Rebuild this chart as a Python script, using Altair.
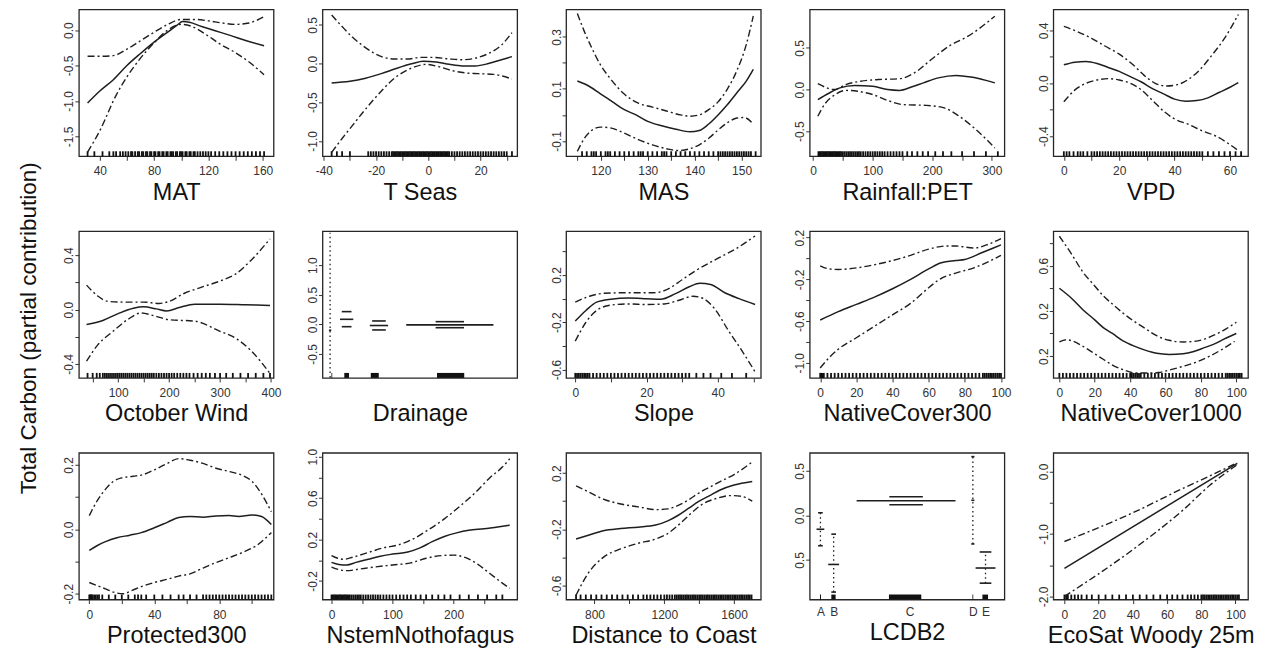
import altair as alt
import pandas as pd

# ---------------- data ----------------
MAT_FIT = [(31,-1.03),(40,-0.86),(50,-0.70),(60,-0.50),(70,-0.33),(80,-0.17),(90,-0.03),(97,0.07),(101,0.12),(106,0.11),(115,0.05),(125,-0.01),(136,-0.075),(148,-0.15),(161,-0.22)]
MAT_UP = [(31,-0.37),(40,-0.37),(50,-0.36),(60,-0.27),(70,-0.15),(80,-0.03),(90,0.08),(100,0.15),(110,0.15),(120,0.13),(130,0.10),(140,0.08),(150,0.10),(161,0.19)]
MAT_LO = [(31,-1.72),(40,-1.42),(52,-0.92),(60,-0.66),(69,-0.42),(80,-0.18),(90,0.0),(100,0.08),(108,0.05),(118,-0.06),(128,-0.19),(140,-0.32),(150,-0.45),(161,-0.63)]
MAT_RUG = [31,36,42,47,50,52,55,57,59,61,63,64,66,68,69,71,72,74,75,77,78,80,81,83,84,86,87,89,90,92,93,94,96,97,99,100,101,103,104,106,107,109,110,112,114,116,118,120,122,125,128,131,134,137,140,143,146,149,152,155,158,161]

TS_FIT = [(-37,-0.25),(-30,-0.23),(-24,-0.19),(-18,-0.13),(-12,-0.06),(-6,0.0),(-2,0.03),(3,0.02),(8,-0.01),(13,-0.03),(18,-0.03),(23,0.0),(28,0.05),(32,0.09)]
TS_UP = [(-37,0.63),(-33,0.48),(-29,0.34),(-25,0.23),(-21,0.14),(-17,0.08),(-13,0.06),(-8,0.06),(-3,0.08),(2,0.08),(8,0.06),(13,0.05),(18,0.07),(23,0.13),(28,0.24),(32,0.40)]
TS_LO = [(-37,-1.15),(-33,-0.97),(-29,-0.80),(-25,-0.63),(-21,-0.47),(-17,-0.32),(-13,-0.19),(-9,-0.10),(-5,-0.04),(-1,-0.01),(4,-0.04),(9,-0.09),(14,-0.12),(19,-0.13),(25,-0.14),(32,-0.20)]
TS_RUG = [-37,-35,-33,-30,-23,-22,-21,-20,-19,-18,-17,-16,-15,-14,-13.5,-13,-12.5,-12,-11.5,-11,-10.5,-10,-9.5,-9,-8.5,-8,-7.5,-7,-6.5,-6,-5.5,-5,-4.5,-4,-3.5,-3,-2.5,-2,-1.5,-1,-0.5,0,0.5,1,1.5,2,2.5,3,3.5,4,4.5,5,5.5,6,6.5,7,7.5,8,9,10,11,12,13,14,15,16,17,18,19,20,21,22,23,24,25,26,27,28,29,30,32]

MAS_FIT = [(115,0.13),(117.5,0.11),(120,0.08),(122.5,0.05),(125,0.02),(127.5,0.0),(130,-0.025),(133,-0.042),(136,-0.055),(139,-0.065),(141,-0.06),(143,-0.035),(145,0.0),(147,0.04),(149,0.085),(151,0.13),(152.5,0.175)]
MAS_UP = [(115,0.39),(116.5,0.32),(118,0.26),(120,0.19),(122,0.14),(125,0.08),(128,0.045),(131,0.03),(134,0.015),(137,0.0),(139,-0.005),(141,0.0),(143,0.02),(145,0.05),(147,0.10),(149,0.17),(151,0.27),(152.5,0.38)]
MAS_LO = [(115,-0.14),(116.5,-0.09),(118,-0.06),(120,-0.047),(122,-0.05),(125,-0.07),(128,-0.095),(131,-0.115),(134,-0.13),(136.5,-0.137),(139,-0.13),(141,-0.115),(143,-0.09),(145,-0.058),(147,-0.03),(149,-0.012),(150.5,-0.01),(152.5,-0.035)]
MAS_RUG = [116,117,118,118.5,119,120,121,121.5,122,123,124,125,126,127,128,128.5,129,130,131,132,133,133.5,134,135,136,137,138,139,140,141,142,143,144,145,145.5,146,146.5,147,147.5,148,148.5,149,149.5,150,150.5,151,151.5,152,153]

RP_FIT = [(8,-0.12),(25,-0.05),(45,0.02),(70,0.05),(100,0.04),(125,0.0),(145,-0.01),(165,0.03),(185,0.08),(210,0.14),(240,0.17),(265,0.15),(290,0.11),(305,0.08)]
RP_UP = [(8,0.07),(20,0.03),(35,0.0),(55,0.06),(80,0.10),(110,0.12),(145,0.13),(170,0.2),(200,0.37),(230,0.53),(260,0.64),(305,0.88)]
RP_LO = [(8,-0.32),(20,-0.17),(35,-0.07),(55,-0.01),(75,-0.02),(100,-0.06),(125,-0.13),(150,-0.18),(190,-0.19),(220,-0.22),(245,-0.32),(275,-0.49),(305,-0.70)]
RP_RUG = [9,11,13,15,17,19,21,23,25,27,29,31,33,35,37,39,41,43,45,47,50,53,56,59,62,65,68,71,74,77,80,84,88,92,96,100,104,108,112,116,120,125,130,135,140,145,150,158,166,175,184,193,205,218,232,250,270,290,310]

VPD_FIT = [(0,0.14),(4,0.16),(8,0.165),(12,0.15),(16,0.12),(20,0.09),(24,0.05),(28,0.01),(32,-0.04),(36,-0.08),(40,-0.12),(44,-0.135),(48,-0.13),(52,-0.11),(56,-0.07),(60,-0.03),(63,0.005)]
VPD_UP = [(0,0.43),(5,0.39),(10,0.34),(15,0.28),(20,0.22),(25,0.14),(29,0.06),(33,0.0),(37,-0.02),(41,-0.01),(45,0.03),(49,0.1),(53,0.2),(58,0.34),(63,0.52)]
VPD_LO = [(0,-0.14),(4,-0.05),(8,0.0),(12,0.025),(16,0.035),(20,0.025),(24,0.0),(28,-0.05),(32,-0.13),(36,-0.21),(40,-0.27),(45,-0.31),(50,-0.36),(55,-0.40),(59,-0.45),(63,-0.51)]
VPD_RUG = [0,1,2,3.5,5,6,7,8.5,10,11,12,13,14,15,16,17,18,19,20,21,22,23,24,25,26,27,28,29,30,31,32,33,34,35,36,37,38,39,40,41,42,43,44,45,46,47,48,49,50,52,54,56,58,60,62,64]

OW_FIT = [(38,-0.11),(70,-0.08),(100,-0.03),(130,0.01),(150,0.02),(175,0.005),(195,-0.01),(220,0.015),(250,0.04),(300,0.04),(350,0.035),(398,0.03)]
OW_UP = [(38,0.18),(60,0.1),(80,0.06),(110,0.055),(150,0.055),(180,0.045),(200,0.06),(230,0.12),(260,0.16),(300,0.21),(330,0.26),(360,0.36),(398,0.52)]
OW_LO = [(38,-0.38),(60,-0.26),(90,-0.16),(120,-0.07),(145,-0.025),(170,-0.045),(200,-0.075),(250,-0.085),(300,-0.16),(330,-0.21),(360,-0.3),(398,-0.47)]
OW_RUG = [40,50,58,64,70,74,78,82,86,90,94,98,102,106,110,114,118,122,126,130,134,138,142,146,150,154,158,162,166,170,175,180,185,190,195,200,205,210,216,222,228,234,240,248,256,264,272,280,290,300,312,325,340,355,370,385,398]

# Drainage (factor levels)
DR_X = [3.9, 12.4, 29.0, 65.4]
DR_HALF = [0.6, 3.4, 4.7, 22.4]
DR_FIT = [-0.10, 0.085, -0.02, -0.01]
DR_UP = [1.55, 0.215, 0.057, 0.045]
DR_LO = [-0.90, -0.04, -0.095, -0.057]
DR_SE_HALF = [0.0, 2.5, 3.5, 7.3]
DR_DOTTED = [1, 0, 0, 0]
DR_RUG_LO = [4.6, 11.2, 24.8, 58.8]
DR_RUG_HI = [5.0, 13.6, 28.9, 72.8]

SL_FIT = [(0,-0.19),(3,-0.1),(6,-0.03),(10,-0.005),(15,0.005),(20,0.0),(24,-0.005),(28,0.04),(32,0.1),(35,0.13),(38,0.12),(42,0.05),(46,0.0),(50.5,-0.05)]
SL_UP = [(0,-0.03),(4,0.02),(8,0.045),(15,0.05),(22,0.05),(26,0.08),(30,0.16),(34,0.24),(40,0.34),(45,0.42),(50.5,0.53)]
SL_LO = [(0,-0.36),(3,-0.2),(6,-0.1),(10,-0.055),(15,-0.045),(20,-0.05),(25,-0.045),(30,-0.005),(33,0.02),(36,0.0),(39,-0.08),(43,-0.27),(47,-0.45),(50.5,-0.62)]
SL_RUG = [0,0.5,1,1.5,2,2.5,3,3.5,4,5,6,7,8,9,10,11,12,13,14,15,16,17,18,19,20,21,22,23,24,25,26,27,28,29,30,31,32,34,36,38,41,44,48]

NC3_FIT = [(0,-0.59),(10,-0.51),(20,-0.44),(30,-0.37),(40,-0.29),(50,-0.2),(60,-0.1),(67,-0.04),(75,-0.02),(80,-0.01),(90,0.06),(100,0.13)]
NC3_UP = [(0,-0.07),(5,-0.1),(10,-0.105),(20,-0.09),(30,-0.06),(40,-0.02),(50,0.03),(60,0.09),(70,0.12),(75,0.12),(85,0.1),(92,0.13),(100,0.19)]
NC3_LO = [(0,-1.05),(5,-0.95),(10,-0.87),(20,-0.76),(30,-0.65),(40,-0.54),(50,-0.43),(60,-0.28),(67,-0.19),(75,-0.14),(85,-0.09),(92,-0.04),(100,0.03)]
NC3_RUG = [0,0.5,1,1.5,2,4,6,8,10,12,14,16,18,20,22,24,26,28,30,32,34,36,38,40,42,44,46,48,50,52,54,56,58,60,62,64,66,68,70,72,74,76,78,80,82,84,86,88,90,91,92,93,94,95,96,97,98,99,100]

NC1_FIT = [(0,0.40),(7,0.31),(13,0.215),(20,0.12),(25,0.05),(30,0.0),(36,-0.065),(42,-0.11),(48,-0.145),(55,-0.175),(62,-0.185),(70,-0.18),(76,-0.16),(82,-0.125),(88,-0.09),(93,-0.05),(100,0.0)]
NC1_UP = [(0,0.86),(7,0.7),(13,0.55),(20,0.42),(25,0.33),(30,0.26),(36,0.18),(42,0.11),(48,0.05),(55,-0.02),(62,-0.06),(70,-0.075),(76,-0.07),(82,-0.05),(88,-0.01),(93,0.03),(100,0.1)]
NC1_LO = [(0,-0.075),(4,-0.055),(8,-0.07),(13,-0.11),(20,-0.18),(25,-0.23),(30,-0.28),(36,-0.32),(43,-0.35),(50,-0.35),(56,-0.345),(63,-0.32),(70,-0.29),(78,-0.25),(85,-0.2),(92,-0.14),(99,-0.07)]
NC1_RUG = [0,2,4,6,8,10,12,14,16,18,20,22,24,26,28,30,32,34,36,38,40,41,42,43,44,45,46,48,50,52,54,56,58,60,62,64,66,68,70,72,74,76,78,80,82,84,86,88,90,92,94,95,96,97,98,99,100,101,102,103]

PR_FIT = [(0,-0.065),(5,-0.05),(10,-0.038),(17,-0.026),(25,-0.018),(32,-0.01),(40,0.005),(48,0.022),(55,0.037),(62,0.04),(70,0.038),(78,0.042),(86,0.043),(92,0.04),(100,0.045),(106,0.04),(112,0.015)]
PR_UP = [(0,0.043),(5,0.09),(10,0.125),(15,0.15),(20,0.16),(27,0.165),(33,0.17),(40,0.185),(48,0.205),(55,0.22),(62,0.215),(70,0.205),(78,0.19),(86,0.18),(94,0.168),(100,0.15),(106,0.11),(112,0.055)]
PR_LO = [(0,-0.165),(5,-0.175),(10,-0.185),(15,-0.195),(21,-0.2),(26,-0.19),(32,-0.178),(40,-0.165),(48,-0.155),(55,-0.145),(62,-0.138),(70,-0.12),(78,-0.103),(86,-0.088),(95,-0.07),(103,-0.05),(112,-0.01)]
PR_RUG = [0,0.5,1,1.5,2,3,4,5,6,8,12,16,20,24,28,30,32,35,40,45,50,55,58,62,66,70,72,74,76,78,80,82,84,86,88,90,92,94,96,98,100,102,104,106,108,110,112]

NS_FIT = [(0,-0.02),(12,-0.04),(25,-0.045),(40,-0.02),(60,0.01),(80,0.04),(100,0.06),(125,0.08),(145,0.12),(165,0.18),(185,0.23),(205,0.265),(225,0.29),(250,0.305),(275,0.325),(292,0.34)]
NS_UP = [(0,0.045),(10,0.02),(20,0.01),(35,0.03),(60,0.075),(85,0.12),(110,0.15),(135,0.21),(160,0.3),(185,0.4),(210,0.52),(235,0.65),(260,0.8),(280,0.9),(292,0.98)]
NS_LO = [(0,-0.065),(12,-0.09),(25,-0.1),(45,-0.085),(70,-0.065),(100,-0.045),(130,-0.025),(155,0.02),(180,0.045),(200,0.05),(220,0.025),(240,-0.04),(260,-0.13),(280,-0.22),(292,-0.27)]
NS_RUG = [0,2,4,6,8,10,12,14,16,18,20,22,24,26,28,30,33,36,39,42,45,48,52,56,60,64,68,72,76,80,85,90,95,100,106,112,118,124,130,138,146,155,165,175,185,195,210,225,240,255,270,280]

DC_FIT = [(694,-0.27),(760,-0.245),(850,-0.21),(950,-0.195),(1050,-0.185),(1150,-0.17),(1220,-0.14),(1280,-0.1),(1340,-0.05),(1400,0.0),(1460,0.04),(1520,0.08),(1600,0.115),(1704,0.14)]
DC_UP = [(694,0.11),(760,0.07),(850,0.015),(950,-0.02),(1050,-0.04),(1150,-0.06),(1220,-0.055),(1280,-0.03),(1340,0.01),(1400,0.06),(1460,0.1),(1520,0.14),(1600,0.19),(1704,0.28)]
DC_LO = [(694,-0.67),(760,-0.52),(850,-0.4),(950,-0.34),(1050,-0.3),(1150,-0.27),(1220,-0.23),(1290,-0.16),(1350,-0.09),(1420,-0.02),(1500,0.02),(1580,0.04),(1640,0.035),(1704,0.0)]
DC_RUG = [694,720,750,780,810,840,870,900,930,960,990,1020,1050,1080,1100,1120,1140,1160,1180,1200,1215,1230,1245,1260,1270,1280,1290,1300,1310,1320,1330,1340,1350,1360,1370,1380,1390,1400,1410,1420,1430,1440,1450,1460,1470,1480,1490,1500,1510,1520,1530,1540,1550,1560,1570,1580,1590,1600,1610,1620,1630,1640,1650,1660,1670,1680,1690,1700]

# LCDB2 (factor levels A..E)
LC_NAMES = ["A", "B", "C", "D", "E"]
LC_TICKS = [5.5, 12.3, 51.3, 83.8, 90.3]
LC_X = [5.5, 12.3, 49.5, 83.8, 90.3]
LC_HALF = [2.0, 2.8, 25.4, 0.8, 5.1]
LC_FIT = [-0.155, -0.55, 0.165, 0.17, -0.59]
LC_UP = [0.03, -0.21, 0.21, 0.66, -0.41]
LC_LO = [-0.34, -0.86, 0.12, -0.32, -0.76]
LC_SE_HALF = [1.2, 1.2, 8.6, 0.8, 3.0]
LC_DOTTED = [1, 1, 0, 1, 1]
LC_RUG_LO = [5.3, 11.1, 40.7, 83.6, 88.7]
LC_RUG_HI = [5.8, 13.3, 57.3, 84.0, 91.6]

EW_FIT = [(0,-1.55),(101,0.13)]
EW_UP = [(0,-1.12),(40,-0.66),(70,-0.26),(85,-0.07),(101,0.14)]
EW_LO = [(0,-2.0),(40,-1.25),(70,-0.6),(85,-0.22),(101,0.11)]
EW_RUG = [0,1,2,4,6,8,10,13,16,20,24,28,32,36,40,44,48,52,56,60,63,66,69,72,74,76,78,80,81,82,83,84,85,86,87,88,89,90,91,92,93,94,95,96,97,98,99,100,101,102]

# ---------------- styling ----------------
W, H = 195, 147
INK = "#1e1e1e"
DASH = [7, 3, 2, 3]
FONT = "Liberation Sans"


def lab_expr(vals, labs):
    e = "''"
    for v, t in zip(vals, labs):
        e = f"abs(datum.value - ({v})) < 1e-9 ? '{t}' : ({e})"
    return e


def frame(pairs):
    return pd.DataFrame({"x": [p[0] for p in pairs], "y": [p[1] for p in pairs]})


def yaxis(yt, yl):
    return alt.Axis(values=yt, labelExpr=lab_expr(yt, yl), title=None)


def continuous(title, fit, up, lo, rug, xdom, ydom, xt, xl, yt, yl):
    xs = alt.Scale(domain=xdom, nice=False, zero=False)
    ys = alt.Scale(domain=ydom, nice=False, zero=False)
    xax = alt.Axis(values=xt, labelExpr=lab_expr(xt, xl), title=title)
    yax = yaxis(yt, yl)
    X = alt.X("x:Q", scale=xs, axis=xax)
    Y = alt.Y("y:Q", scale=ys, axis=yax)
    rug_l = alt.Chart(pd.DataFrame({"x": rug})).mark_rule(
        color="#111111", strokeWidth=1.8
    ).encode(x=X, y=alt.value(H - 5), y2=alt.value(H))
    up_l = alt.Chart(frame(up)).mark_line(
        color=INK, strokeWidth=1.4, strokeDash=DASH, interpolate="monotone", clip=True
    ).encode(x=X, y=Y)
    lo_l = alt.Chart(frame(lo)).mark_line(
        color=INK, strokeWidth=1.4, strokeDash=DASH, interpolate="monotone", clip=True
    ).encode(x=X, y=Y)
    fit_l = alt.Chart(frame(fit)).mark_line(
        color=INK, strokeWidth=1.5, interpolate="monotone", clip=True
    ).encode(x=X, y=Y)
    return alt.layer(rug_l, up_l, lo_l, fit_l).properties(width=W, height=H)


def factor(title, xs_, half, fit, up, lo, se_half, dotted, rlo, rhi, ydom, yt, yl, xax):
    df = pd.DataFrame({"x": xs_, "h": half, "fit": fit, "up": up, "lo": lo,
                       "sh": se_half, "dot": dotted})
    df["a"] = df["x"] - df["h"]
    df["b"] = df["x"] + df["h"]
    df["sa"] = df["x"] - df["sh"]
    df["sb"] = df["x"] + df["sh"]
    xs = alt.Scale(domain=[0, 100], nice=False, zero=False)
    ys = alt.Scale(domain=ydom, nice=False, zero=False)
    yax = yaxis(yt, yl)
    base = alt.Chart(df)
    fit_l = base.mark_rule(color=INK, strokeWidth=1.6).encode(
        x=alt.X("a:Q", scale=xs, axis=xax), x2="b:Q",
        y=alt.Y("fit:Q", scale=ys, axis=yax))
    up_l = base.mark_rule(color=INK, strokeWidth=1.6).encode(
        x=alt.X("sa:Q", scale=xs, axis=xax), x2="sb:Q",
        y=alt.Y("up:Q", scale=ys, axis=yax))
    lo_l = base.mark_rule(color=INK, strokeWidth=1.6).encode(
        x=alt.X("sa:Q", scale=xs, axis=xax), x2="sb:Q",
        y=alt.Y("lo:Q", scale=ys, axis=yax))
    dot_l = base.transform_filter("datum.dot == 1").mark_rule(
        color=INK, strokeWidth=1.3, strokeDash=[1.5, 3]).encode(
        x=alt.X("x:Q", scale=xs, axis=xax),
        y=alt.Y("lo:Q", scale=ys, axis=yax), y2="up:Q")
    rug_l = alt.Chart(pd.DataFrame({"r0": rlo, "r1": rhi})).mark_rect(color="#111111").encode(
        x=alt.X("r0:Q", scale=xs, axis=xax), x2="r1:Q",
        y=alt.value(H - 5), y2=alt.value(H))
    return alt.layer(rug_l, dot_l, up_l, lo_l, fit_l).properties(width=W, height=H)


p_mat = continuous("MAT", MAT_FIT, MAT_UP, MAT_LO, MAT_RUG, [24.6, 168], [-1.78, 0.29],
                   [40, 60, 80, 100, 120, 140, 160], ["40", "", "80", "", "120", "", "160"],
                   [-1.5, -1.0, -0.5, 0.0], ["-1.5", "-1.0", "-0.5", "0.0"])
p_ts = continuous("T Seas", TS_FIT, TS_UP, TS_LO, TS_RUG, [-40.5, 34], [-1.2, 0.7],
                  [-40, -30, -20, -10, 0, 10, 20, 30], ["-40", "", "-20", "", "0", "", "20", ""],
                  [-1.0, -0.5, 0.0, 0.5], ["-1.0", "-0.5", "0.0", "0.5"])
p_mas = continuous("MAS", MAS_FIT, MAS_UP, MAS_LO, MAS_RUG, [112.6, 154.1], [-0.159, 0.405],
                   [115, 120, 125, 130, 135, 140, 145, 150], ["", "120", "", "130", "", "140", "", "150"],
                   [-0.1, 0.0, 0.1, 0.2, 0.3], ["-0.1", "", "0.1", "", "0.3"])
p_rp = continuous("Rainfall:PET", RP_FIT, RP_UP, RP_LO, RP_RUG, [-5.6, 321], [-0.80, 0.96],
                  [0, 50, 100, 150, 200, 250, 300], ["0", "", "100", "", "200", "", "300"],
                  [-0.5, 0.0, 0.5], ["-0.5", "0.0", "0.5"])
p_vpd = continuous("VPD", VPD_FIT, VPD_UP, VPD_LO, VPD_RUG, [-3.8, 66.5], [-0.552, 0.558],
                   [0, 10, 20, 30, 40, 50, 60], ["0", "", "20", "", "40", "", "60"],
                   [-0.4, -0.2, 0.0, 0.2, 0.4], ["-0.4", "", "0.0", "", "0.4"])

p_ow = continuous("October Wind", OW_FIT, OW_UP, OW_LO, OW_RUG, [23, 405], [-0.503, 0.577],
                  [50, 100, 150, 200, 250, 300, 350, 400], ["", "100", "", "200", "", "300", "", "400"],
                  [-0.4, -0.2, 0.0, 0.2, 0.4], ["-0.4", "", "0.0", "", "0.4"])
p_dr = factor("Drainage", DR_X, DR_HALF, DR_FIT, DR_UP, DR_LO, DR_SE_HALF, DR_DOTTED,
              DR_RUG_LO, DR_RUG_HI, [-0.907, 1.577],
              [-0.5, 0.0, 0.5, 1.0], ["-0.5", "0.0", "0.5", "1.0"],
              alt.Axis(values=[50], labels=False, ticks=False, title="Drainage", titlePadding=24))
p_sl = continuous("Slope", SL_FIT, SL_UP, SL_LO, SL_RUG, [-2.57, 52.1], [-0.671, 0.571],
                  [0, 10, 20, 30, 40, 50], ["0", "", "20", "", "40", ""],
                  [-0.6, -0.4, -0.2, 0.0, 0.2, 0.4], ["-0.6", "", "-0.2", "", "0.2", ""])
p_nc3 = continuous("NativeCover300", NC3_FIT, NC3_UP, NC3_LO, NC3_RUG, [-5.8, 101.9], [-1.145, 0.262],
                   [0, 20, 40, 60, 80, 100], ["0", "20", "40", "60", "80", "100"],
                   [-1.0, -0.8, -0.6, -0.4, -0.2, 0.0, 0.2], ["-1.0", "", "-0.6", "", "-0.2", "", "0.2"])
p_nc1 = continuous("NativeCover1000", NC1_FIT, NC1_UP, NC1_LO, NC1_RUG, [-3.4, 106.6], [-0.393, 0.905],
                   [0, 20, 40, 60, 80, 100], ["0", "20", "40", "60", "80", "100"],
                   [-0.2, 0.0, 0.2, 0.4, 0.6, 0.8], ["0.2", "", "0.2", "", "0.6", ""])

p_pr = continuous("Protected300", PR_FIT, PR_UP, PR_LO, PR_RUG, [-6.4, 113.4], [-0.218, 0.238],
                  [0, 20, 40, 60, 80, 100], ["0", "", "40", "", "80", ""],
                  [-0.2, -0.1, 0.0, 0.1, 0.2], ["-0.2", "", "0.0", "", "0.2"])
p_ns = continuous("NstemNothofagus", NS_FIT, NS_UP, NS_LO, NS_RUG, [-14.8, 304.3], [-0.379, 1.038],
                  [0, 50, 100, 150, 200, 250], ["0", "", "100", "", "200", ""],
                  [-0.2, 0.0, 0.2, 0.4, 0.6, 0.8, 1.0], ["-0.2", "", "0.2", "", "0.6", "", "1.0"])
p_dc = continuous("Distance to Coast", DC_FIT, DC_UP, DC_LO, DC_RUG, [637, 1753], [-0.701, 0.345],
                  [800, 1000, 1200, 1400, 1600], ["800", "", "1200", "", "1600"],
                  [-0.6, -0.4, -0.2, 0.0, 0.2], ["-0.6", "", "-0.2", "", "0.2"])
p_lc = factor("LCDB2", LC_X, LC_HALF, LC_FIT, LC_UP, LC_LO, LC_SE_HALF, LC_DOTTED,
              LC_RUG_LO, LC_RUG_HI, [-0.944, 0.703],
              [-0.5, 0.0, 0.5], ["0.5", "0.0", "0.5"],
              alt.Axis(values=LC_TICKS, labelExpr=lab_expr(LC_TICKS, LC_NAMES), ticks=False,
                       labelPadding=7, title="LCDB2"))
p_ew = continuous("EcoSat Woody 25m", EW_FIT, EW_UP, EW_LO, EW_RUG, [-6.5, 107.3], [-2.05, 0.30],
                  [0, 20, 40, 60, 80, 100], ["0", "20", "40", "60", "80", "100"],
                  [-2.0, -1.5, -1.0, -0.5, 0.0], ["-2.0", "", "-1.0", "", "0.0"])

panels = [p_mat, p_ts, p_mas, p_rp, p_vpd,
          p_ow, p_dr, p_sl, p_nc3, p_nc1,
          p_pr, p_ns, p_dc, p_lc, p_ew]

chart = alt.concat(*panels, columns=5, spacing={"row": 75, "column": 49}, bounds="flush").properties(
    title=alt.TitleParams(text="Total Carbon (partial contribution)", orient="left",
                          anchor="middle", fontSize=22.5, font=FONT, fontWeight="normal",
                          color="#111111", offset=22),
    padding={"left": 9, "top": 0, "right": 0, "bottom": 0},
).configure_axis(
    domain=False, grid=False, ticks=True, tickColor="#333333", tickSize=4, tickWidth=1,
    labelColor="#333333", labelFont=FONT, labelFontSize=12, labelOverlap=False,
    labelFlush=False, titleFont=FONT, titleFontSize=23.5, titleFontWeight="normal",
    titleColor="#111111",
).configure_axisX(
    labelPadding=5.5, titlePadding=3.5, labelBaseline="top",
).configure_axisY(
    labelAngle=-90, labelAlign="center", labelBaseline="alphabetic", labelPadding=2,
).configure_view(
    stroke="#262626", strokeWidth=1.3,
)

chart.save("out.html", embed_options={"renderer": "svg", "actions": False})
